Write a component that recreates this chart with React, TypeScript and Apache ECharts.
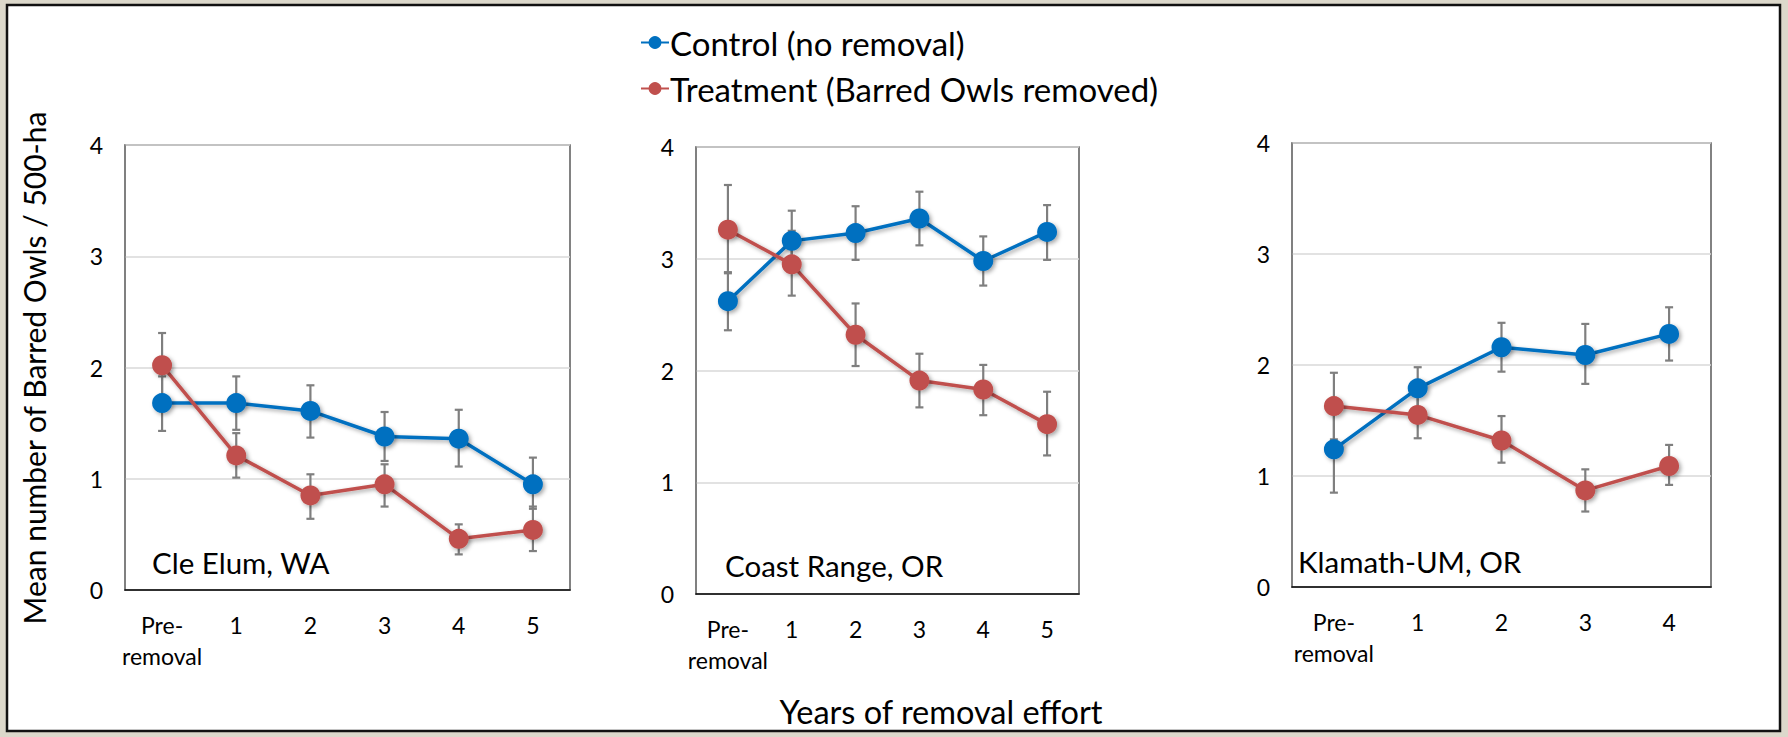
import React, { useEffect, useRef } from "react";
import * as echarts from "echarts";

const seriesNames = ["Control (no removal)", "Treatment (Barred Owls removed)"];
const categories6 = ["Pre-\nremoval", "1", "2", "3", "4", "5"];
const categories5 = ["Pre-\nremoval", "1", "2", "3", "4"];
const yTicks = [0, 1, 2, 3, 4];

// Cle Elum, WA
const cleControl = [1.68, 1.68, 1.61, 1.38, 1.36, 0.95];
const cleControlLow = [1.43, 1.44, 1.37, 1.16, 1.11, 0.73];
const cleControlHigh = [1.92, 1.92, 1.84, 1.6, 1.62, 1.19];
const cleTreat = [2.02, 1.21, 0.85, 0.95, 0.46, 0.54];
const cleTreatLow = [1.73, 1.01, 0.64, 0.75, 0.32, 0.35];
const cleTreatHigh = [2.31, 1.41, 1.04, 1.13, 0.59, 0.75];

// Coast Range, OR
const coastControl = [2.62, 3.16, 3.23, 3.36, 2.98, 3.24];
const coastControlLow = [2.36, 2.89, 2.99, 3.12, 2.76, 2.99];
const coastControlHigh = [2.88, 3.43, 3.47, 3.6, 3.2, 3.48];
const coastTreat = [3.26, 2.95, 2.32, 1.91, 1.83, 1.52];
const coastTreatLow = [2.87, 2.67, 2.04, 1.67, 1.6, 1.24];
const coastTreatHigh = [3.66, 3.25, 2.6, 2.15, 2.05, 1.81];

// Klamath-UM, OR
const klaControl = [1.24, 1.79, 2.16, 2.09, 2.28];
const klaControlLow = [0.85, 1.6, 1.94, 1.83, 2.04];
const klaControlHigh = [1.63, 1.98, 2.38, 2.37, 2.52];
const klaTreat = [1.63, 1.55, 1.32, 0.87, 1.09];
const klaTreatLow = [1.33, 1.34, 1.12, 0.68, 0.92];
const klaTreatHigh = [1.93, 1.76, 1.54, 1.06, 1.28];

const panelNames = ["Cle Elum, WA", "Coast Range, OR", "Klamath-UM, OR"];
const yTitle = "Mean number of Barred Owls / 500-ha";
const xTitle = "Years of removal effort";

const BLUE = "#0070C0";
const RED = "#C0504D";
const FONT = "Lato, 'Open Sans', sans-serif";

export default function App() {
  const ref = useRef<HTMLDivElement>(null);

  useEffect(() => {
    if (!ref.current) return;
    const chart = echarts.init(ref.current, undefined, { renderer: "svg" });

    const grids = [
      { left: 125, top: 145, width: 445, height: 445 },
      { left: 696, top: 147, width: 383, height: 447 },
      { left: 1292, top: 143, width: 419, height: 444 },
    ];
    const cats = [categories6, categories6, categories5];
    const panels = [
      { c: cleControl, cl: cleControlLow, ch: cleControlHigh, t: cleTreat, tl: cleTreatLow, th: cleTreatHigh },
      { c: coastControl, cl: coastControlLow, ch: coastControlHigh, t: coastTreat, tl: coastTreatLow, th: coastTreatHigh },
      { c: klaControl, cl: klaControlLow, ch: klaControlHigh, t: klaTreat, tl: klaTreatLow, th: klaTreatHigh },
    ];

    const errRender = (params: any, api: any) => {
      const x = api.value(0);
      const lo = api.coord([x, api.value(1)]);
      const hi = api.coord([x, api.value(2)]);
      const cap = 4;
      const style = { stroke: "#7f7f7f", lineWidth: 2.2 };
      return {
        type: "group",
        children: [
          { type: "line", shape: { x1: lo[0], y1: lo[1], x2: hi[0], y2: hi[1] }, style },
          { type: "line", shape: { x1: lo[0] - cap, y1: lo[1], x2: lo[0] + cap, y2: lo[1] }, style },
          { type: "line", shape: { x1: hi[0] - cap, y1: hi[1], x2: hi[0] + cap, y2: hi[1] }, style },
        ],
      };
    };

    const shadow = { shadowBlur: 4, shadowOffsetX: 2, shadowOffsetY: 2, shadowColor: "rgba(0,0,0,0.35)" };

    const series: any[] = [];
    panels.forEach((p, i) => {
      const mk = (lo: number[], hi: number[]) => lo.map((v, k) => [k, v, hi[k]]);
      series.push({
        type: "custom", name: "errC" + i, xAxisIndex: i, yAxisIndex: i, z: 1,
        renderItem: errRender, data: mk(p.cl, p.ch), encode: { x: 0, y: [1, 2] }, silent: true,
      });
      series.push({
        type: "custom", name: "errT" + i, xAxisIndex: i, yAxisIndex: i, z: 1,
        renderItem: errRender, data: mk(p.tl, p.th), encode: { x: 0, y: [1, 2] }, silent: true,
      });
      series.push({
        type: "line", name: seriesNames[0], xAxisIndex: i, yAxisIndex: i, z: 3,
        data: p.c, symbol: "circle", symbolSize: 20,
        lineStyle: { color: BLUE, width: 3.5, ...shadow },
        itemStyle: { color: BLUE, ...shadow },
      });
      series.push({
        type: "line", name: seriesNames[1], xAxisIndex: i, yAxisIndex: i, z: 4,
        data: p.t, symbol: "circle", symbolSize: 20,
        lineStyle: { color: RED, width: 3.5, ...shadow },
        itemStyle: { color: RED, ...shadow },
      });
    });

    const labelPos = [
      { x: 152, y: 562 },
      { x: 725, y: 565 },
      { x: 1298, y: 561 },
    ];

    chart.setOption({
      animation: false,
      backgroundColor: "#dcd8cb",
      textStyle: { fontFamily: FONT },
      legend: {
        data: seriesNames,
        orient: "vertical",
        left: 640,
        top: 25,
        itemGap: 11,
        itemWidth: 28,
        itemHeight: 16,
        padding: 0,
        textStyle: { fontSize: 33, color: "#000", fontFamily: FONT, lineHeight: 35, padding: [0, 0, 0, -4] },
      },
      grid: grids.map((g) => ({ ...g, show: true, backgroundColor: "#fff", borderColor: "#595959", borderWidth: 1.5 })),
      xAxis: grids.map((g, i) => ({
        type: "category",
        gridIndex: i,
        data: cats[i],
        boundaryGap: true,
        axisLine: { lineStyle: { color: "#000", width: 1.5 } },
        axisTick: { alignWithLabel: true, length: 6, lineStyle: { color: "#000", width: 1.5 } },
        axisLabel: { interval: 0, fontSize: 23, lineHeight: 31, margin: 19, color: "#000", fontFamily: FONT },
      })),
      yAxis: grids.map((g, i) => ({
        type: "value",
        gridIndex: i,
        min: yTicks[0],
        max: yTicks[yTicks.length - 1],
        interval: 1,
        axisLine: { show: true, lineStyle: { color: "#7f7f7f", width: 1.5 } },
        axisTick: { show: false },
        splitLine: { lineStyle: { color: "#d9d9d9", width: 1.5 } },
        axisLabel: { fontSize: 23, color: "#000", margin: 22, fontFamily: FONT },
      })),
      graphic: [
        {
          type: "rect", z: -10, silent: true,
          shape: { x: 7, y: 5, width: 1773, height: 726 },
          style: { fill: "#fff", stroke: "#111", lineWidth: 2.5 },
        },
        {
          type: "text", x: 34, y: 368, rotation: Math.PI / 2,
          style: { text: yTitle, fontSize: 30, fill: "#000", fontFamily: FONT, align: "center", verticalAlign: "middle" },
        },
        {
          type: "text", x: 941, y: 711,
          style: { text: xTitle, fontSize: 32.5, fill: "#000", fontFamily: FONT, align: "center", verticalAlign: "middle" },
        },
        ...panelNames.map((t, i) => ({
          type: "text", x: labelPos[i].x, y: labelPos[i].y, z: 50,
          style: { text: t, fontSize: 29.5, fill: "#000", fontFamily: FONT, align: "left", verticalAlign: "middle" },
        })),
      ],
      series,
    });

    return () => chart.dispose();
  }, []);

  return (
    <div
      ref={ref}
      style={{ position: "fixed", left: 0, top: 0, width: 1788, height: 737 }}
    />
  );
}
